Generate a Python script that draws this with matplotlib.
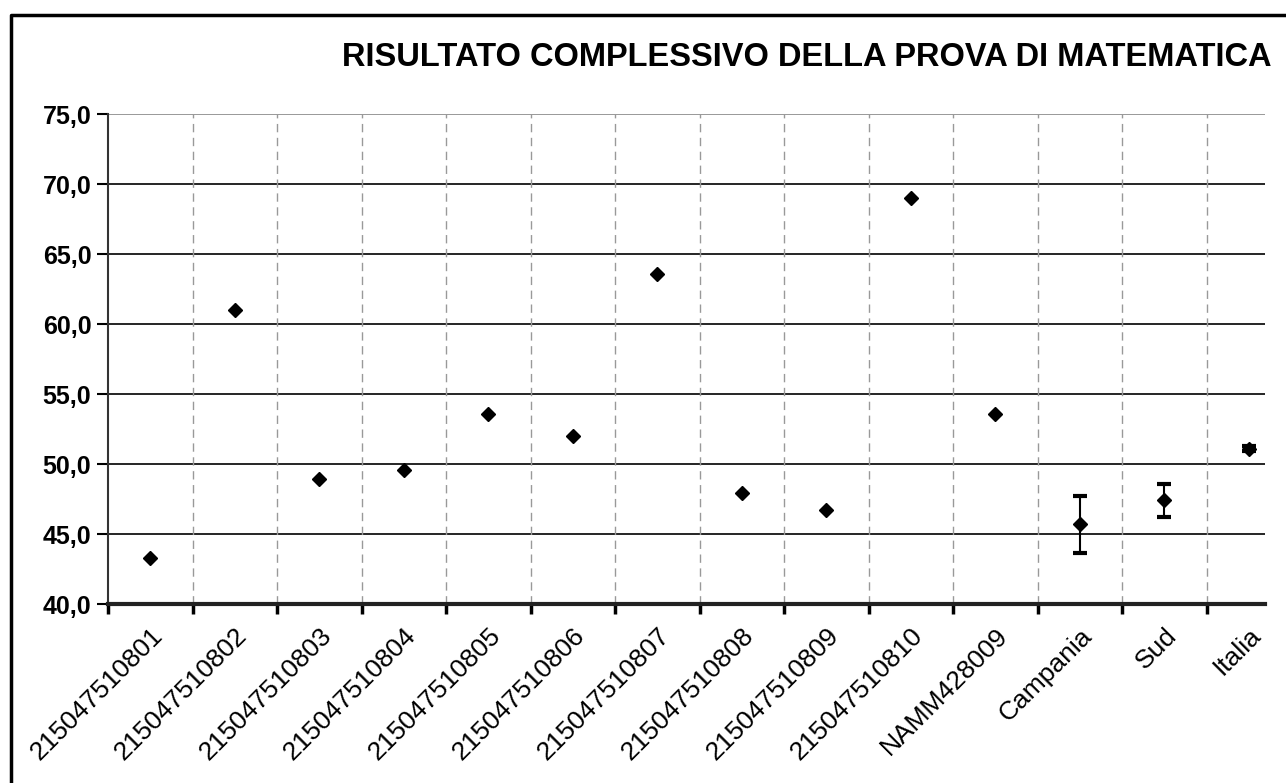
import matplotlib
matplotlib.use("Agg")
import matplotlib.pyplot as plt
from matplotlib.lines import Line2D
import numpy as np

categories = ["215047510801", "215047510802", "215047510803", "215047510804",
              "215047510805", "215047510806", "215047510807", "215047510808",
              "215047510809", "215047510810", "NAMM428009", "Campania", "Sud", "Italia"]
values = [43.3, 61.0, 48.9, 49.6, 53.6, 52.0, 63.6, 47.9, 46.7, 69.0, 53.6, 45.7, 47.4, 51.1]
errors = [0, 0, 0, 0, 0, 0, 0, 0, 0, 0, 0, 2.05, 1.2, 0.2]
yticks = [40, 45, 50, 55, 60, 65, 70, 75]
title = "RISULTATO COMPLESSIVO DELLA PROVA DI MATEMATICA"

plt.rcParams['font.family'] = ['Liberation Sans', 'DejaVu Sans']

fig = plt.figure(figsize=(12.86, 7.83), dpi=100)
ax = fig.add_axes([108/1286, 1-604/783, (1265-108)/1286, (604-114)/783])

x = np.arange(len(categories))
err = np.array(errors, dtype=float)
has_err = err > 0
ax.errorbar(x[has_err], np.array(values)[has_err], yerr=err[has_err], fmt='none',
            ecolor='black', elinewidth=1.5, capsize=5, capthick=3, zorder=3)
ax.plot(x, values, linestyle='none', marker='D', markersize=7, color='black', zorder=4)

xmin, xmax = -0.5, 13.19
ax.set_yticks(yticks)
ax.set_yticklabels([f"{v:.1f}".replace('.', ',') for v in yticks],
                   fontsize=18, fontweight='bold')
for v in yticks[1:]:
    ax.axhline(v, color='black' if v < 75 else '#888888', linewidth=1.2, zorder=1)
bounds = np.arange(len(categories) - 1) + 0.5
for b in bounds:
    ax.axvline(b, color='#999999', linewidth=1, linestyle=(0, (6, 4)), zorder=1)

ax.set_xticks(x)
ax.set_xticklabels(categories, rotation=45, ha='right', rotation_mode='anchor',
                   fontsize=19)
ax.tick_params(axis='x', length=0, pad=14)
ax.set_xticks(np.concatenate([[xmin], bounds]), minor=True)
ax.tick_params(axis='x', which='minor', length=7, width=2.5, color='black')
ax.tick_params(axis='y', length=8, width=1.5, direction='out', pad=4)
ax.set_xlim(xmin, xmax)
ax.set_ylim(40, 75)

for s in ['top', 'right']:
    ax.spines[s].set_visible(False)
ax.spines['left'].set_color('#333333')
ax.spines['left'].set_linewidth(1.5)
ax.spines['bottom'].set_color('#222222')
ax.spines['bottom'].set_linewidth(3)

fig.text(1272/1286, 1-58/783, title, ha='right', va='center',
         fontsize=23.5, fontweight='bold')

fig.add_artist(Line2D([11/1286, 11/1286, 1.0], [0.0, 1-15/783, 1-15/783],
                      transform=fig.transFigure, color='black', linewidth=2.5))

fig.savefig("out.png", dpi=100)
